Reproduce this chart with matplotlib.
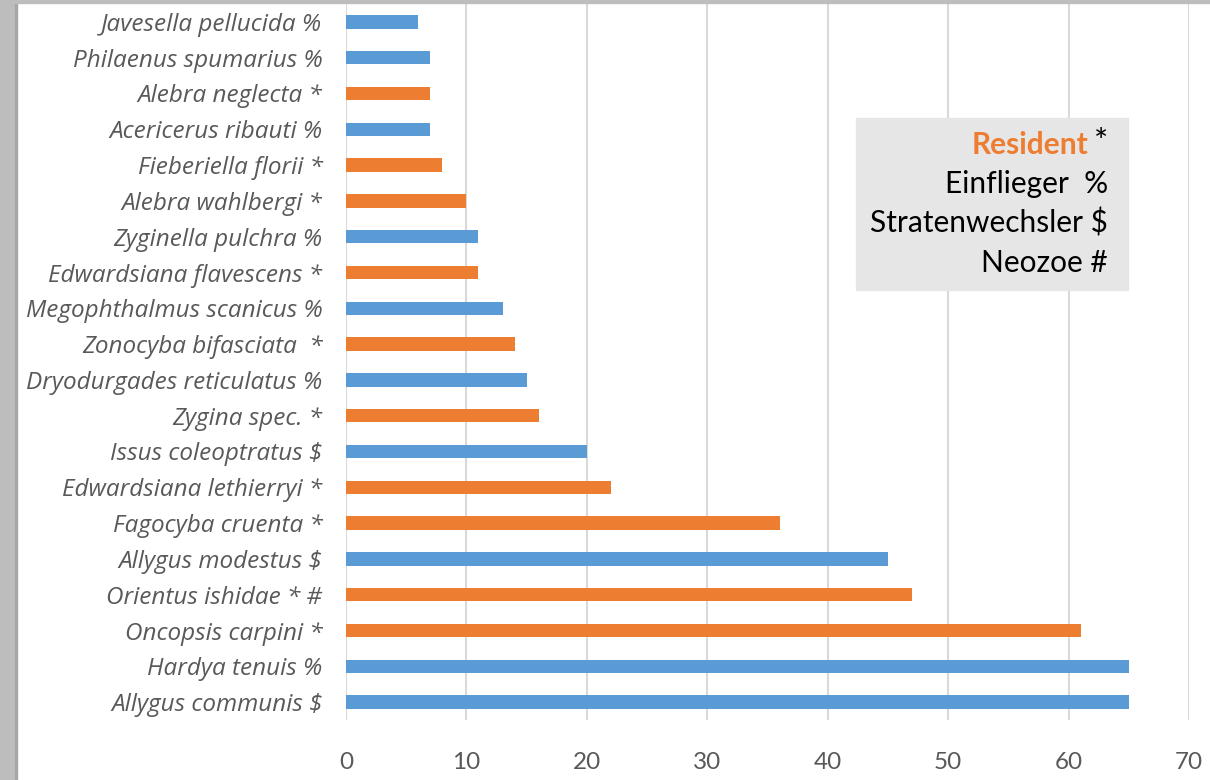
import matplotlib
matplotlib.use('Agg')
import matplotlib.pyplot as plt
from matplotlib.patches import Rectangle

plt.rcParams['font.family'] = ['Lato', 'DejaVu Sans']

# Arten von oben nach unten, mit Anzahl
arten = ['Javesella pellucida %', 'Philaenus spumarius %', 'Alebra neglecta *',
         'Acericerus ribauti %', 'Fieberiella florii *', 'Alebra wahlbergi *',
         'Zyginella pulchra %', 'Edwardsiana flavescens *', 'Megophthalmus scanicus %',
         'Zonocyba bifasciata  *', 'Dryodurgades reticulatus %', 'Zygina spec. *',
         'Issus coleoptratus $', 'Edwardsiana lethierryi *', 'Fagocyba cruenta *',
         'Allygus modestus $', 'Orientus ishidae * #', 'Oncopsis carpini *',
         'Hardya tenuis %', 'Allygus communis $']
anzahl = [6, 7, 7, 7, 8, 10, 11, 11, 13, 14, 15, 16, 20, 22, 36, 45, 47, 61, 65, 65]
resident = [False, False, True, False, True, True, False, True, False, True,
            False, True, False, True, True, False, True, True, False, False]

legende = ['Einflieger  %', 'Stratenwechsler $', 'Neozoe #']

blau = '#5B9BD5'
orange = '#ED7D31'
grau = '#595959'

fig = plt.figure(figsize=(12.1, 7.8), dpi=100)

# grauer Rand links und oben
fig.patches.append(Rectangle((0, 0), 15 / 1210, 1, transform=fig.transFigure,
                             color='#BDBDBD', zorder=0))
fig.patches.append(Rectangle((15 / 1210, 0), 2 / 1210, 1, transform=fig.transFigure,
                             color='#A6A6A6', zorder=0))
fig.patches.append(Rectangle((0, 1 - 3 / 780), 1, 3 / 780, transform=fig.transFigure,
                             color='#BDBDBD', zorder=0))

ax = fig.add_axes([346 / 1210, 60 / 780, (1189 - 346) / 1210, (776 - 60) / 780])

n = len(arten)
y = list(range(n))
farben = [orange if r else blau for r in resident]
ax.barh(y, anzahl, height=0.37, color=farben, zorder=3)

ax.set_ylim(n - 0.5, -0.5)
ax.set_xlim(0, 70)
ax.set_xticks(range(0, 71, 10))
ax.set_yticks(y)
ax.set_yticklabels(arten, family=['Open Sans', 'DejaVu Sans'], style='italic',
                   fontsize=17.5, color=grau)
ax.tick_params(axis='y', length=0, pad=17)
ax.tick_params(axis='x', length=0, pad=23, labelsize=17.5, labelcolor=grau)
ax.grid(axis='x', color='#D9D9D9', linewidth=1.5, zorder=0)
for s in ax.spines.values():
    s.set_visible(False)

# Legende als grauer Kasten
fig.patches.append(Rectangle((856 / 1210, 1 - 290 / 780), 272 / 1210, 172 / 780,
                             transform=fig.transFigure, color='#E7E6E6', zorder=5))
xr = 1108 / 1210
fig.text(xr, 1 - 143 / 780, '*', ha='right', va='center', fontsize=24, color='black', zorder=6)
fig.text(1088 / 1210, 1 - 145 / 780, 'Resident', ha='right', va='center', fontsize=21.5,
         fontweight='bold', color=orange, zorder=6)
for i, t in enumerate(legende):
    fig.text(xr, 1 - (184 + 39.5 * i) / 780, t, ha='right', va='center', fontsize=21.5,
             color='black', zorder=6)

fig.savefig('out.png', dpi=100)
